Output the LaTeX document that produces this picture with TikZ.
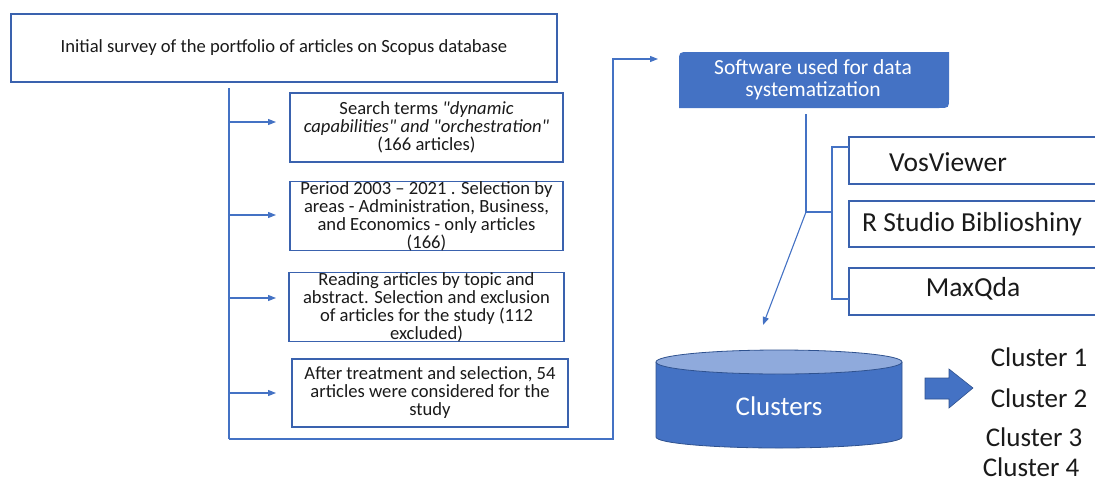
\documentclass[tikz,border=0pt]{standalone}
\usepackage{fontspec}
\setmainfont{Carlito}[Ligatures=TeXOff]
\usetikzlibrary{arrows.meta}
\definecolor{ln}{HTML}{4472C4}
\definecolor{bd}{HTML}{3A62AE}
\definecolor{blu}{HTML}{4472C4}
\definecolor{lblu}{HTML}{8FAADC}
\definecolor{dbd}{HTML}{2F528F}
\definecolor{txt}{HTML}{1A1A1A}
\tikzset{
  lbox/.style={draw=bd, line width=1.2pt, fill=white, align=center, inner sep=0pt, text=txt,
     font=\fontsize{18.6}{18}\selectfont},
  sbox/.style={draw=bd, line width=1.2pt, fill=white},
  big/.style={text=txt, font=\fontsize{27.5}{30}\selectfont, inner sep=0pt},
  conn/.style={draw=ln, line width=1.1pt},
  arr/.style={conn, -{Triangle[length=8pt,width=6pt]}},
}
\begin{document}
\begin{tikzpicture}[x=1pt,y=-1pt]
\useasboundingbox (0,0) rectangle (1095,482);
% left column
\node[lbox, minimum width=546pt, minimum height=68pt] (top) at (284,48)
  {Initial survey of the portfolio of articles on Scopus database};
\node[lbox, minimum width=273pt, minimum height=69pt] (b1) at (426.5,127.5)
  {Search terms \textit{"dynamic}\\ \textit{capabilities" and "orchestration"}\\ (166 articles)};
\node[lbox, minimum width=273pt, minimum height=68pt] (b2) at (426.5,216)
  {Period 2003 – 2021 . Selection by\\ areas - Administration, Business,\\ and Economics - only articles\\ (166)};
\node[lbox, minimum width=275pt, minimum height=68pt] (b3) at (426.5,307)
  {Reading articles by topic and\\ abstract. Selection and exclusion\\ of articles for the study (112\\ excluded)};
\node[lbox, minimum width=276pt, minimum height=68pt] (b4) at (430,393)
  {After treatment and selection, 54\\ articles were considered for the\\ study};
\coordinate (trunk) at (229,88);
\coordinate (low) at (229,439);
\coordinate (rise) at (613,439);
\coordinate (up) at (613,59);
\coordinate (swin) at (658,59);
\draw[conn] (trunk) -- (low);
\draw[arr] (trunk |- 0,122) -- (276,122);
\draw[arr] (trunk |- 0,215) -- (276,215);
\draw[arr] (trunk |- 0,298) -- (276,298);
\draw[arr] (trunk |- 0,393) -- (276,393);
\draw[arr] (low) -- (rise) -- (up) -- (swin);
% software box
\fill[blu] (679,108) -- (679,62) .. controls (679,52) .. (689,52) -- (949,52) -- (949,98)
  .. controls (949,108) .. (939,108) -- cycle;
\node[text=white, align=center, font=\fontsize{21.5}{22}\selectfont, inner sep=0pt] (sw) at (813,80)
  {Software used for data\\ systematization};
% software list
\draw[sbox] (1100,137) -- (849,137) -- (849,184) -- (1100,184);
\draw[sbox] (1100,201) -- (849,201) -- (849,247) -- (1100,247);
\draw[sbox] (1100,268) -- (849,268) -- (849,315) -- (1100,315);
\node[big] (vos) at (948,162) {VosViewer};
\node[big] (rst) at (972,224) {R Studio Biblioshiny};
\node[big] (mqd) at (973,289) {MaxQda};
\coordinate (swout) at (806,114);
\coordinate (fork) at (806,212);
\coordinate (brk) at (832,212);
\draw[conn] (swout) -- (fork) -- (brk);
\draw[conn] (849,147) -- (832,147) -- (832,299) -- (849,299);
\coordinate (cyltop) at (763,325);
\draw[arr] (fork) -- (cyltop);
% cylinder
\fill[blu] (656,362) -- (656,437) arc[start angle=180, end angle=360, x radius=123pt, y radius=11pt] -- (902,362) -- cycle;
\draw[dbd, line width=0.8pt] (656,362) -- (656,437) arc[start angle=180, end angle=360, x radius=123pt, y radius=11pt] -- (902,362);
\filldraw[fill=lblu, draw=dbd, line width=0.8pt] (779,362) ellipse[x radius=123pt, y radius=12pt];
\node[text=white, font=\fontsize{27}{30}\selectfont, inner sep=0pt] (clu) at (779,406) {Clusters};
% block arrow
\filldraw[fill=blu, draw=dbd, line width=0.6pt] (925,378) -- (949,378) -- (949,369) -- (973,388) -- (949,408) -- (949,399) -- (925,399) -- cycle;
\node[big, font=\fontsize{27}{30}\selectfont] (c1) at (1039,357) {Cluster 1};
\node[big, font=\fontsize{27}{30}\selectfont] (c2) at (1039,398) {Cluster 2};
\node[big, font=\fontsize{27}{30}\selectfont] (c3) at (1034,437) {Cluster 3};
\node[big, font=\fontsize{27}{30}\selectfont] (c4) at (1031,467) {Cluster 4};
\end{tikzpicture}
\end{document}
